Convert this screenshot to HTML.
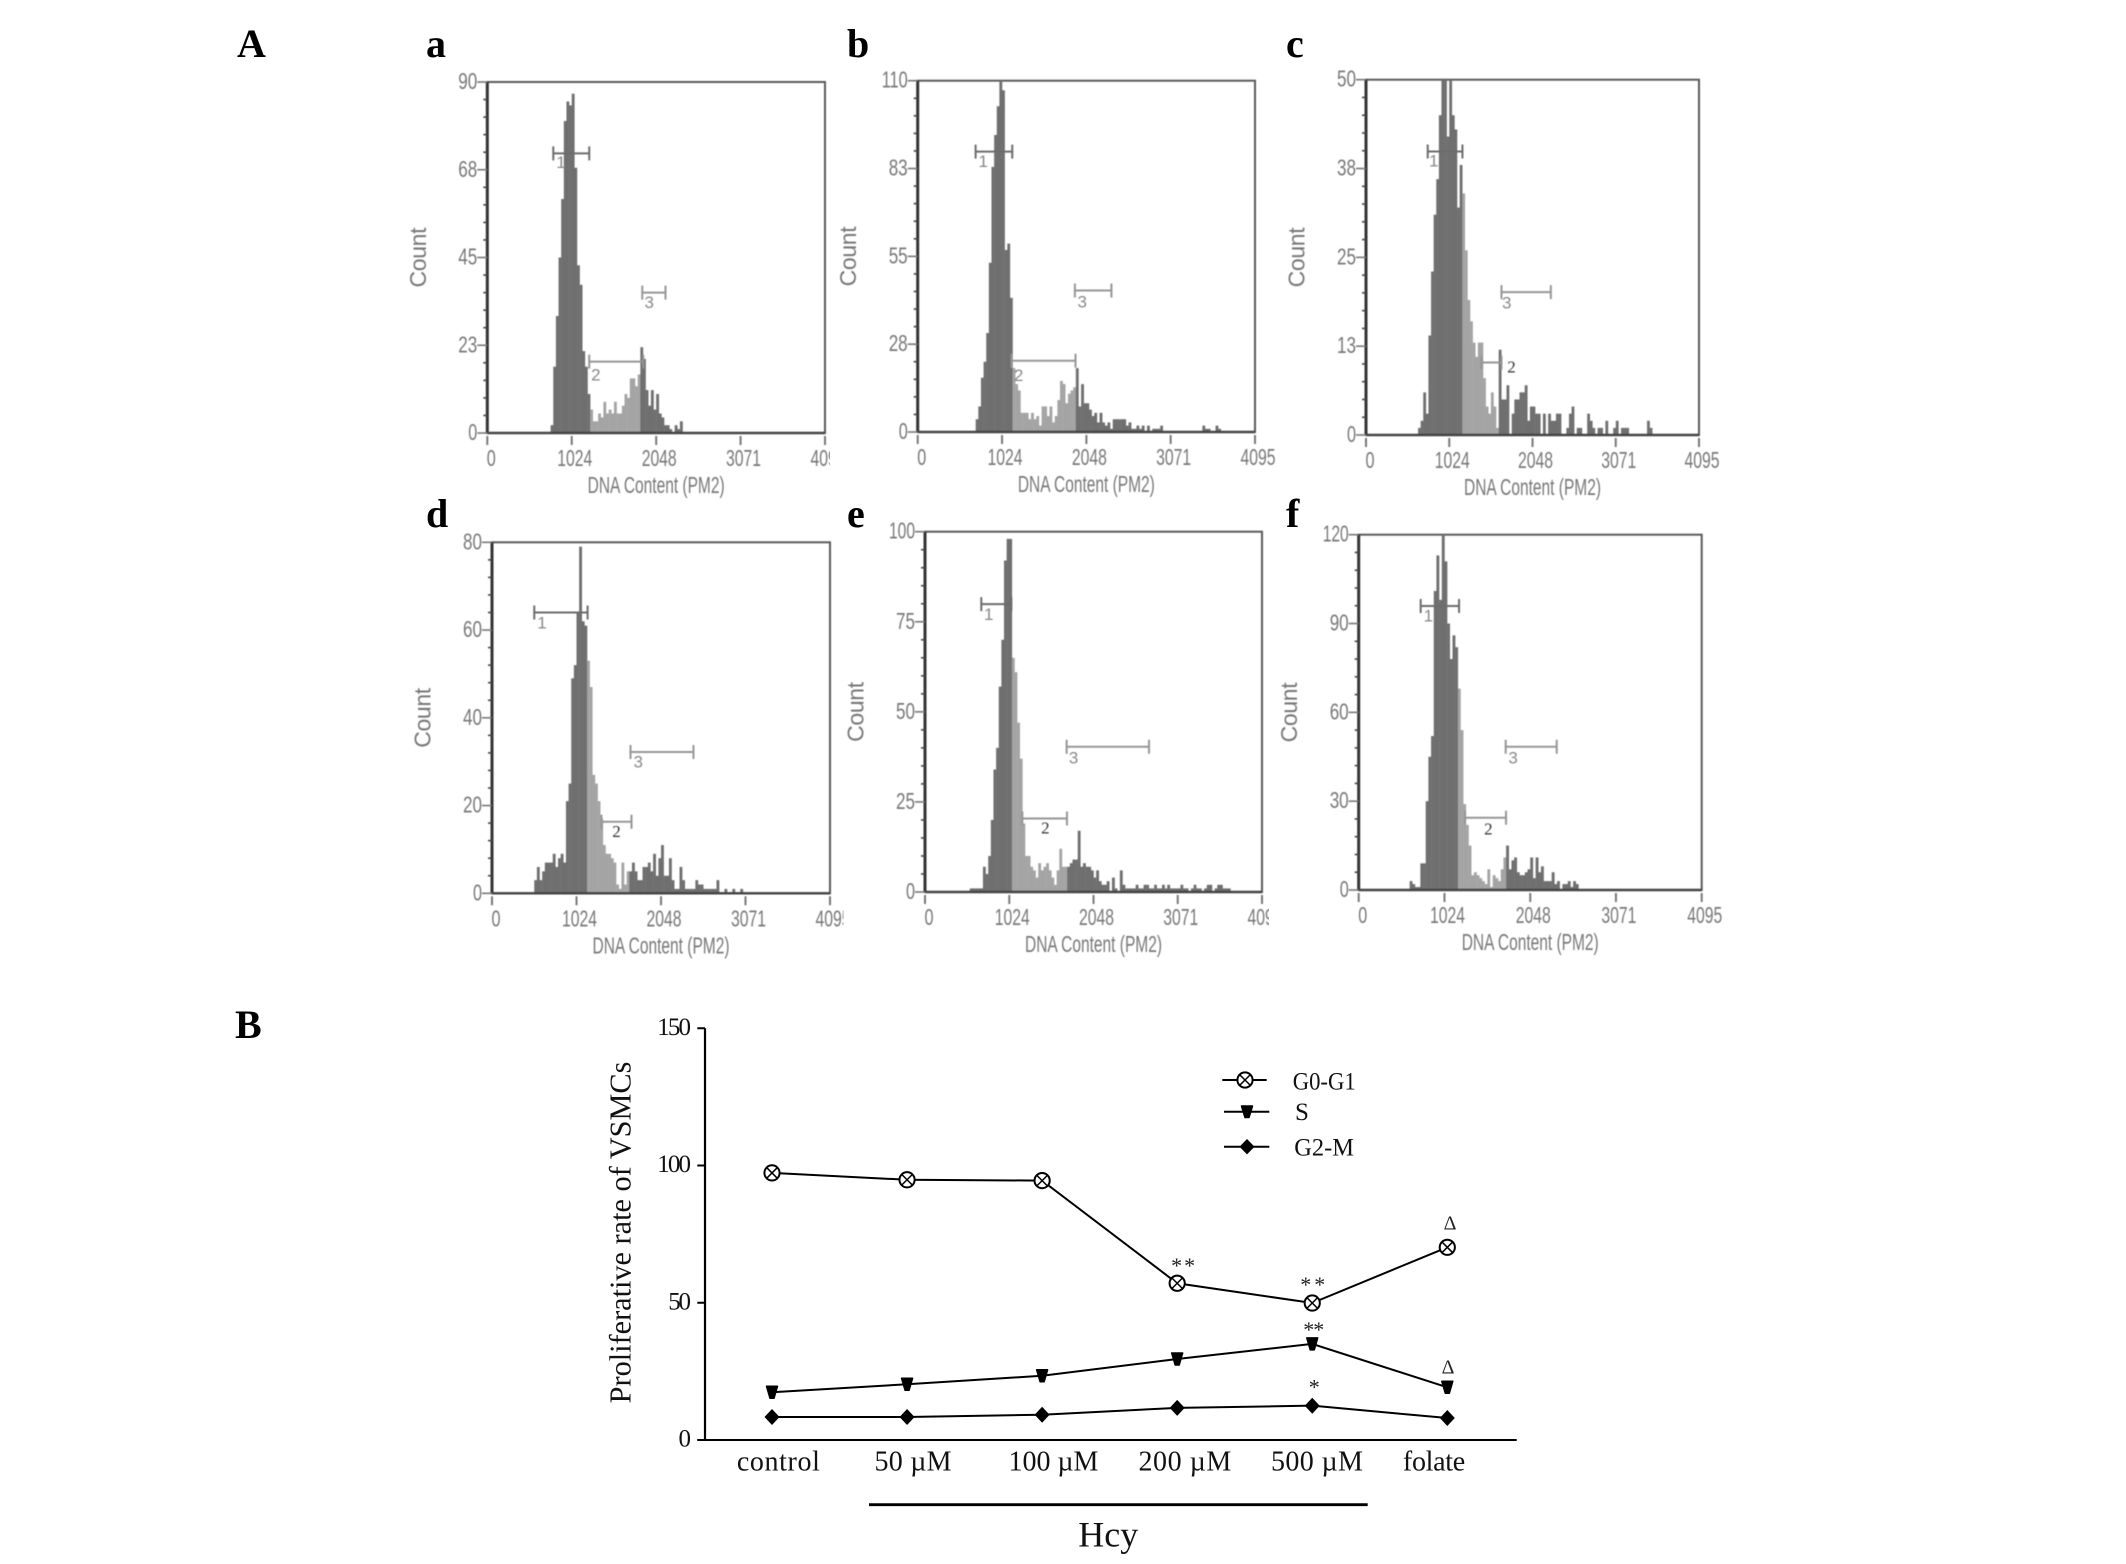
<!DOCTYPE html>
<html lang="en">
<head>
<meta charset="utf-8">
<title>Cell cycle histograms and proliferative rate of VSMCs</title>
<style>
html,body{margin:0;padding:0;background:#fff;}
body{width:2126px;height:1564px;overflow:hidden;}
svg{display:block;}
.serif{font-family:"Liberation Serif",serif;}
.sans{font-family:"Liberation Sans",sans-serif;}
.letter{font-family:"Liberation Serif",serif;font-weight:bold;font-size:40px;fill:#000;}
.hist{filter:blur(0.55px);}
.lineChart{filter:blur(0.25px);}
</style>
</head>
<body>
<svg id="fig" width="2126" height="1564" viewBox="0 0 2126 1564" xmlns="http://www.w3.org/2000/svg">
  <rect x="0" y="0" width="2126" height="1564" fill="#fff"/>
  <defs id="defs"></defs>
  <text class="letter" x="237" y="57">A</text>
  <text class="letter" x="235" y="1038">B</text>
  <text class="letter" x="426" y="57">a</text>
  <text class="letter" x="847" y="57">b</text>
  <text class="letter" x="1286" y="57">c</text>
  <text class="letter" x="426" y="527">d</text>
  <text class="letter" x="847" y="527">e</text>
  <text class="letter" x="1286" y="527">f</text>
  <g id="histograms"></g>
  <g id="lineChart" class="lineChart">
    <text class="serif" font-size="30.5" fill="#111" text-anchor="middle" textLength="341.7" lengthAdjust="spacingAndGlyphs" transform="translate(630.7,1232.5) rotate(-90)">Proliferative rate of VSMCs</text>
    <line x1="869" y1="1504.7" x2="1367.7" y2="1504.7" stroke="#000" stroke-width="2.8"/>
    <text class="serif" font-size="36" fill="#111" x="1078.3" y="1546.7">Hcy</text>
    <g>
      <g>
        <line x1="1222.3" y1="1080" x2="1266.7" y2="1080" stroke="#000" stroke-width="2"/>
        <circle cx="1245" cy="1080" r="7.6" fill="#fff" stroke="#000" stroke-width="2"/>
        <path d="M1240 1075 L1250 1085 M1250 1075 L1240 1085" stroke="#000" stroke-width="1.5"/>
        <text class="serif" font-size="25" fill="#111" x="1292.7" y="1089.7" textLength="63" lengthAdjust="spacingAndGlyphs">G0-G1</text>
      </g>
      <g>
        <line x1="1224" y1="1111.7" x2="1269.3" y2="1111.7" stroke="#000" stroke-width="2"/>
        <polygon points="1241.5,1106 1252.5,1106 1249,1117.5 1245,1117.5" fill="#000" stroke="#000" stroke-width="1.5" stroke-linejoin="round"/>
        <text class="serif" font-size="25" fill="#111" x="1295" y="1120">S</text>
      </g>
      <g>
        <line x1="1224" y1="1146.7" x2="1269.3" y2="1146.7" stroke="#000" stroke-width="2"/>
        <polygon points="1247,1139 1254.5,1146.7 1247,1154.4 1239.5,1146.7" fill="#000"/>
        <text class="serif" font-size="25" fill="#111" x="1294.3" y="1155.7" textLength="59.7" lengthAdjust="spacingAndGlyphs">G2-M</text>
      </g>
    </g>
  </g>
</svg>
<script>
/* ---------- Panel data: counts per 32-channel DNA content bin ---------- */
const firstBinA = 24;
const countsA = [2,17,30,45,60,80,85,84,87,68,43,38,21,17,10,6,3,3,5,4,8,5,6,5,8,5,5,7,10,9,14,14,12,15,22,19,11,7,11,6,10,5,4,2,2,1,0,2,1,3];
const ticksA = [0,23,45,68,90];
const splitA = [1236,1870];
const gatesA = [[800,1236,71.7,893,67.9],[1236,1891,18.3,1317,13.5],[1879,2161,36,1963,32]];

const firstBinB = 22;
const countsB = [4,8,17,22,31,53,83,93,102,110,107,57,59,42,20,15,13,6,6,6,4,6,4,5,2,8,8,5,8,3,5,10,16,15,9,12,13,14,20,8,15,9,9,7,5,6,3,6,3,2,3,1,4,4,4,4,4,2,3,1,1,2,1,2,0,2,0,1,1,1,2,0,0,0,0,0,0,0,0,0,0,0,0,0,0,0,2,1,1,0,0,2,1];
const ticksB = [0,28,55,83,110];
const splitB = [1140,1908];
const gatesB = [[703,1148,87.8,796,83],[1140,1916,22.3,1225,16],[1908,2352,44.3,1997,39]];

const firstBinC = 20;
const countsC = [1,2,6,3,14,23,31,36,45,50,50,42,50,45,43,32,38,34,26,19,16,13,11,13,13,8,4,3,6,4,1,12,5,5,7,0,3,5,5,6,6,7,2,4,4,3,3,0,3,0,3,2,2,3,3,0,0,1,3,4,0,1,1,0,0,3,2,1,0,1,1,0,2,0,0,1,2,0,1,1,1,0,0,0,0,0,0,0,2,1];
const ticksC = [0,13,25,38,50];
const splitC = [1173,1633];
const gatesC = [[759,1186,39.9,833,37.8],[1420,1666,10.2,1789,8.8],[1666,2273,20.1,1731,17.8]];

const firstBinD = 16;
const countsD = [3,6,3,5,7,7,7,9,6,8,9,7,21,25,49,52,64,79,62,61,53,47,27,25,21,17,11,9,9,8,7,2,1,7,2,5,5,7,5,3,3,6,6,7,5,9,4,8,11,4,4,8,3,1,1,6,3,1,1,1,1,3,2,2,1,1,1,1,1,3,0,0,1,0,0,1,0,0,1];
const ticksD = [0,20,40,60,80];
const splitD = [1154,1670];
const gatesD = [[512,1158,64,605,60.4],[1327,1690,16.3,1509,12.8],[1678,2441,32.2,1771,28.7]];

const firstBinE = 16;
const countsE = [0,1,1,1,1,1,7,5,10,20,34,40,57,70,92,98,98,65,61,47,37,19,10,10,7,6,4,8,6,7,8,6,4,2,6,12,7,7,7,8,9,9,17,7,8,7,7,6,4,6,3,2,2,3,0,4,1,0,6,2,1,1,1,1,2,1,1,2,2,1,1,2,1,1,2,1,2,1,1,1,1,2,1,1,0,1,2,1,1,0,1,2,2,0,1,2,2,1,1,1];
const ticksE = [0,25,50,75,100];
const splitE = [1049,1737];
const gatesE = [[684,1049,79.9,774,75.5],[1183,1725,20.4,1462,16.3],[1721,2722,40.3,1806,35.7]];

const firstBinF = 19;
const countsF = [3,2,1,1,9,9,30,45,52,101,113,98,120,111,90,78,86,82,68,54,29,22,15,5,6,5,4,3,2,7,1,5,4,3,7,11,15,7,10,11,6,5,5,6,7,11,4,11,6,8,3,3,3,6,2,3,0,2,2,3,1,3,2];
const ticksF = [0,30,60,90,120];
const splitF = [1178,1755];
const gatesF = [[740,1198,95.9,832,90.7],[1270,1759,24.4,1548,18.8],[1755,2364,48.4,1843,42.8]];

const xTickValues = [0,1024,2048,3071,4095];

/* ---------- Line chart data ---------- */
const categories = ["control","50 µM","100 µM","200 µM","500 µM","folate"];
const categoryLabelCoords = [0.047,1.044,2.084,3.057,4.035,4.902];
const categoryLabelWidths = [83,77,90,92.7,92,62.3];
const yTicks = [0,50,100,150];
const seriesG0G1 = [97.3,94.8,94.5,57.1,49.9,70.2];
const seriesS = [17.4,20.3,23.4,29.5,35,19.2];
const seriesG2M = [8.4,8.4,9.2,11.7,12.5,8];

const NS = "http://www.w3.org/2000/svg";
function make(tag, attrs, parent, text){
  const n = document.createElementNS(NS, tag);
  for (const k in attrs) n.setAttribute(k, attrs[k]);
  if (text !== undefined) n.textContent = text;
  parent.appendChild(n);
  return n;
}

const GREY = "#777";
const labelWidths = {1:9,2:19,3:26,4:35};

function drawPanel(p){
  const x = v => p.left + (v/4095)*(p.right-p.left);
  const y = c => p.bottom - (c/p.ymax)*(p.bottom-p.top);
  const host = document.getElementById("histograms");
  const defs = document.getElementById("defs");
  const clip = make("clipPath", {id:"clip-"+p.id}, defs);
  const clipRect = make("rect", {x:p.left-110, y:p.top-40, width:p.clipRight-p.left+110, height:p.bottom-p.top+110}, clip);
  
  
  const outer = make("g", {"clip-path":"url(#clip-"+p.id+")"}, host);
  
  
  const g = make("g", {class:"hist"}, outer);
  
  

  const frame = make("rect", {x:p.left, y:p.top, width:p.right-p.left, height:p.bottom-p.top, fill:"#fff", stroke:"#5a5a5a", "stroke-width":2}, g);
  
  

  const binW = x(32)-x(0);
  p.counts.forEach((c,i)=>{
    if (c <= 0) return;
    const start = (p.firstBin+i)*32;
    const mid = start+16;
    const light = mid >= p.split[0] && mid < p.split[1];
    const bar = make("rect", {x:x(start), y:y(c), width:binW+0.2, height:y(0)-y(c), fill: light ? "#a4a4a4" : "#6f6f6f"}, g);
    
    
  });

  const yAxis = make("line", {x1:p.left, y1:p.top, x2:p.left, y2:p.bottom, stroke:"#333", "stroke-width":3}, g);
  
  
  const xAxis = make("line", {x1:p.left, y1:p.bottom, x2:p.right, y2:p.bottom, stroke:"#444", "stroke-width":2.4}, g);
  
  

  const nT = p.ticks.length-1;
  p.ticks.forEach((lab,i)=>{
    const val = p.ymax*i/nT;
    const tk = make("line", {x1:p.left-10, y1:y(val), x2:p.left, y2:y(val), stroke:GREY, "stroke-width":1.6}, g);
    
    
    const s = String(lab);
    const t = make("text", {class:"sans", x:p.left-10, y:y(val)+7, "font-size":23, fill:GREY, "text-anchor":"end", textLength:labelWidths[s.length], lengthAdjust:"spacingAndGlyphs"}, g, s);
    
    
    if (i < nT){
      for (let m=1;m<5;m++){
        const mv = p.ymax*(i+m/5)/nT;
        const mt = make("line", {x1:p.left-4, y1:y(mv), x2:p.left, y2:y(mv), stroke:"#444", "stroke-width":1.6}, g);
        
        
      }
    }
  });

  xTickValues.forEach((v,i)=>{
    const tk = make("line", {x1:x(v), y1:p.bottom+3, x2:x(v), y2:p.bottom+12, stroke:GREY, "stroke-width":2}, g);
    
    
    const s = String(v);
    const t = make("text", {class:"sans", x:x(v)+(i===0?4:3), y:p.bottom+33, "font-size":23, fill:GREY, "text-anchor":"middle", textLength:labelWidths[s.length], lengthAdjust:"spacingAndGlyphs"}, g, s);
    
    
  });

  const yTitle = make("text", {class:"sans", "font-size":23, fill:GREY, "text-anchor":"middle", textLength:60, transform:"translate("+(p.left-61.5)+","+((p.top+p.bottom)/2)+") rotate(-90)"}, g, "Count");
  
  
  const xTitle = make("text", {class:"sans", x:(p.left+p.right)/2, y:p.bottom+60, "font-size":23, fill:GREY, "text-anchor":"middle", textLength:137, lengthAdjust:"spacingAndGlyphs"}, g, "DNA Content (PM2)");
  
  

  p.gates.forEach((gt,i)=>{
    const col = i===0 ? "#6c6c6c" : "#969696";
    const d = "M"+x(gt[0])+" "+(y(gt[2])-7)+"V"+(y(gt[2])+7)+"M"+x(gt[0])+" "+y(gt[2])+"H"+x(gt[1])+"M"+x(gt[1])+" "+(y(gt[2])-7)+"V"+(y(gt[2])+7);
    const line = make("path", {d:d, fill:"none", stroke:col, "stroke-width":2}, g);
    
    
    const darkLabel = i===1 && p.darkGate2;
    const lab = make("text", {x:x(gt[3]), y:y(gt[4]), "text-anchor":"middle", "font-size":17, fill:darkLabel?"#333":"#888", class:darkLabel?"serif":"sans"}, g, String(i+1));
    
    
  });
}

drawPanel({id:"a",left:487.3,right:825,top:82,bottom:433,clipRight:830,ymax:90,counts:countsA,firstBin:firstBinA,ticks:ticksA,split:splitA,gates:gatesA,darkGate2:false});
drawPanel({id:"b",left:917.7,right:1255,top:80.7,bottom:432,clipRight:1300,ymax:110,counts:countsB,firstBin:firstBinB,ticks:ticksB,split:splitB,gates:gatesB,darkGate2:false});
drawPanel({id:"c",left:1366,right:1699,top:79.7,bottom:435,clipRight:1745,ymax:50,counts:countsC,firstBin:firstBinC,ticks:ticksC,split:splitC,gates:gatesC,darkGate2:true});
drawPanel({id:"d",left:492,right:830,top:542.3,bottom:893.3,clipRight:843.5,ymax:80,counts:countsD,firstBin:firstBinD,ticks:ticksD,split:splitD,gates:gatesD,darkGate2:true});
drawPanel({id:"e",left:925,right:1262,top:531.7,bottom:892,clipRight:1269,ymax:100,counts:countsE,firstBin:firstBinE,ticks:ticksE,split:splitE,gates:gatesE,darkGate2:true});
drawPanel({id:"f",left:1358.7,right:1701.7,top:534.7,bottom:890,clipRight:1745,ymax:120,counts:countsF,firstBin:firstBinF,ticks:ticksF,split:splitF,gates:gatesF,darkGate2:true});

/* ---------- Line chart ---------- */
(function(){
  const host = document.getElementById("lineChart");
  const xs = c => 772 + c*135.06;
  const ys = v => 1440 - v*2.745;

  const yAx = make("line", {x1:705, y1:ys(150), x2:705, y2:ys(0)+1, stroke:"#000", "stroke-width":2.2}, host);
  
  
  const xAx = make("line", {x1:697.3, y1:ys(0), x2:1516.7, y2:ys(0), stroke:"#000", "stroke-width":2}, host);
  
  

  const numW = {1:9.3,2:22.7,3:33.7};
  yTicks.forEach(v=>{
    const tk = make("line", {x1:697.3, y1:ys(v), x2:705, y2:ys(v), stroke:"#000", "stroke-width":2}, host);
    
    
    const s = String(v);
    const t = make("text", {class:"serif", x:691, y:ys(v)+6.5, "font-size":25, fill:"#111", "text-anchor":"end", textLength:numW[s.length]}, host, s);
    
    
  });

  categories.forEach((c,i)=>{
    const t = make("text", {class:"serif", x:xs(categoryLabelCoords[i]), y:1470.7, "font-size":28, fill:"#111", "text-anchor":"middle", textLength:categoryLabelWidths[i]}, host, c);
    
    
  });

  function seriesPath(vals){
    return vals.map((v,i)=>(i?"L":"M")+xs(i)+" "+ys(v)).join("");
  }
  const lineG0 = make("path", {d:seriesPath(seriesG0G1), fill:"none", stroke:"#000", "stroke-width":2}, host);
  
  
  const lineS = make("path", {d:seriesPath(seriesS), fill:"none", stroke:"#000", "stroke-width":2}, host);
  
  
  const lineG2 = make("path", {d:seriesPath(seriesG2M), fill:"none", stroke:"#000", "stroke-width":2}, host);
  
  

  seriesG0G1.forEach((v,i)=>{
    const cx = xs(i), cy = ys(v);
    const c = make("circle", {cx:cx, cy:cy, r:7.6, fill:"#fff", stroke:"#000", "stroke-width":2}, host);
    
    
    const cr = make("path", {d:"M"+(cx-5)+" "+(cy-5)+"L"+(cx+5)+" "+(cy+5)+"M"+(cx+5)+" "+(cy-5)+"L"+(cx-5)+" "+(cy+5), stroke:"#000", "stroke-width":1.5}, host);
    
    
  });
  seriesS.forEach((v,i)=>{
    const cx = xs(i), cy = ys(v);
    const tri = make("polygon", {points:(cx-5.5)+","+(cy-6)+" "+(cx+5.5)+","+(cy-6)+" "+(cx+2)+","+(cy+6)+" "+(cx-2)+","+(cy+6), fill:"#000", stroke:"#000", "stroke-width":1.5, "stroke-linejoin":"round"}, host);
    
    
  });
  seriesG2M.forEach((v,i)=>{
    const cx = xs(i), cy = ys(v);
    const dm = make("polygon", {points:cx+","+(cy-8)+" "+(cx+7.5)+","+cy+" "+cx+","+(cy+8)+" "+(cx-7.5)+","+cy, fill:"#000"}, host);
    
    
  });

  function annotate(vals, idx, txt, dx, dy, size, spacing){
    const t = make("text", {class:"serif", x:xs(idx)+dx, y:ys(vals[idx])+dy, "font-size":size, fill:"#222", "text-anchor":"middle", "letter-spacing":spacing}, host, txt);
    
    
  }
  annotate(seriesG0G1, 3, "**", 7, -10.3, 22, 2);
  annotate(seriesG0G1, 4, "**", 2, -11, 22, 3);
  annotate(seriesS, 4, "**", 1, -6.7, 22, -1);
  annotate(seriesG2M, 4, "*", 2, -11, 22, 0);
  annotate(seriesG0G1, 5, "Δ", 2.7, -18, 20, 0);
  annotate(seriesS, 5, "Δ", 0.7, -14, 20, 0);
})();
</script>
</body>
</html>
